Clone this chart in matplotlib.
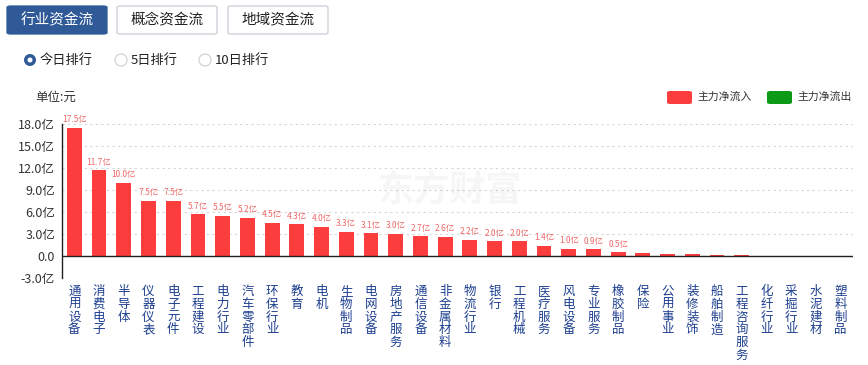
import matplotlib
matplotlib.use("Agg")
import matplotlib.pyplot as plt
from matplotlib.patches import FancyBboxPatch, Circle
import numpy as np

plt.rcParams['font.family'] = ['Noto Sans CJK SC', 'DejaVu Sans']

categories = ["通用设备", "消费电子", "半导体", "仪器仪表", "电子元件", "工程建设", "电力行业",
              "汽车零部件", "环保行业", "教育", "电机", "生物制品", "电网设备", "房地产服务",
              "通信设备", "非金属材料", "物流行业", "银行", "工程机械", "医疗服务", "风电设备",
              "专业服务", "橡胶制品", "保险", "公用事业", "装修装饰", "船舶制造", "工程咨询服务",
              "化纤行业", "采掘行业", "水泥建材", "塑料制品"]
values = [17.5, 11.7, 10.0, 7.5, 7.5, 5.7, 5.5, 5.2, 4.5, 4.3, 4.0, 3.3, 3.1, 3.0,
          2.7, 2.6, 2.2, 2.0, 2.0, 1.4, 1.0, 0.9, 0.5, 0.45, 0.3, 0.3, 0.2, 0.1,
          -0.02, -0.06, -0.08, -0.1]
n_labeled = 23
yticks = [-3.0, 0.0, 3.0, 6.0, 9.0, 12.0, 15.0, 18.0]
ytick_labels = ["-3.0亿", "0.0", "3.0亿", "6.0亿", "9.0亿", "12.0亿", "15.0亿", "18.0亿"]
tabs = ["行业资金流", "概念资金流", "地域资金流"]
radios = ["今日排行", "5日排行", "10日排行"]
legend_items = ["主力净流入", "主力净流出"]

RED = "#fc3d3d"
GREEN = "#0d9a16"
BLUE = "#2f5a97"
W, H = 868, 365

fig = plt.figure(figsize=(W / 100, H / 100), dpi=100)
fig.patch.set_facecolor("white")

def fx(x):
    return x / W

def fy(y):
    return 1 - y / H

# ---- top tabs ----
tab_x = [7, 117, 228]
tab_w = 100
for i, (t, x0) in enumerate(zip(tabs, tab_x)):
    active = i == 0
    p = FancyBboxPatch((fx(x0), fy(34)), fx(tab_w), 28 / H,
                       boxstyle="round,pad=0,rounding_size=0.004",
                       transform=fig.transFigure,
                       facecolor=BLUE if active else "white",
                       edgecolor=BLUE if active else "#c9cdd4", linewidth=0.9)
    fig.patches.append(p)
    fig.text(fx(x0 + tab_w / 2), fy(20), t, ha="center", va="center",
             fontsize=10.5, color="white" if active else "#222222")

# ---- radio buttons ----
radio_x = [30, 121, 205]
for i, (r, x0) in enumerate(zip(radios, radio_x)):
    if i == 0:
        c = Circle((x0, H - 60), 6, transform=None, facecolor=BLUE, edgecolor=BLUE, lw=0)
        fig.patches.append(c)
        c2 = Circle((x0, H - 60), 2.5, transform=None, facecolor="white", lw=0)
        fig.patches.append(c2)
    else:
        c = Circle((x0, H - 60), 6, transform=None, facecolor="white", edgecolor="#cfd3d8", lw=0.9)
        fig.patches.append(c)
    fig.text(fx(x0 + 10), fy(60), r, ha="left", va="center", fontsize=9.5, color="#222222")

# ---- unit label ----
fig.text(fx(35), fy(97), "单位:元", ha="left", va="center", fontsize=9, color="#333333")

# ---- legend ----
leg_x = [667, 767]
for lbl, x0, col in zip(legend_items, leg_x, [RED, GREEN]):
    p = FancyBboxPatch((fx(x0), fy(104)), fx(25), 13 / H,
                       boxstyle="round,pad=0,rounding_size=0.004",
                       transform=fig.transFigure, facecolor=col, edgecolor="none")
    fig.patches.append(p)
    fig.text(fx(x0 + 30), fy(97), lbl, ha="left", va="center", fontsize=7.8, color="#333333")

# ---- axes ----
ax_left, ax_right, ax_top, ax_bot = 62, 853, 124, 278
ax = fig.add_axes([fx(ax_left), fy(ax_bot), fx(ax_right - ax_left), (ax_bot - ax_top) / H])
ax.set_facecolor("white")
x = np.arange(len(categories))
colors = [RED if v >= 0 else GREEN for v in values]
ax.bar(x, values, width=0.6, color=colors, zorder=3)
ax.set_xlim(-0.5, len(categories) - 0.5)
ax.set_ylim(-3, 18)
ax.set_yticks(yticks)
ax.set_yticklabels(ytick_labels, fontsize=9, color="#333333")
for yt in yticks:
    if yt != 0:
        ax.axhline(yt, color="#d5d5d5", lw=0.8, ls=(0, (2, 3)), zorder=1)
ax.axhline(0, color="#222222", lw=1.0, zorder=4)
for s in ["top", "right", "bottom"]:
    ax.spines[s].set_visible(False)
ax.spines["left"].set_color("#222222")
ax.spines["left"].set_linewidth(1.0)
ax.tick_params(axis="y", length=0, pad=5)
ax.tick_params(axis="x", length=0, pad=5)
ax.set_xticks(x)
ax.set_xticklabels(["\n".join(c) for c in categories], fontsize=9, color="#1d3f8f",
                   linespacing=0.98, va="top")

for i in range(n_labeled):
    ax.text(x[i], values[i] + 0.5, f"{values[i]:.1f}亿", ha="center", va="bottom",
            fontsize=6, color="#f06767", zorder=5)

# faint watermark
fig.text(fx(450), fy(190), "东方财富", ha="center", va="center", fontsize=26,
         color="#000000", alpha=0.035, fontweight="bold")

fig.savefig("out.png", dpi=100, facecolor="white")
